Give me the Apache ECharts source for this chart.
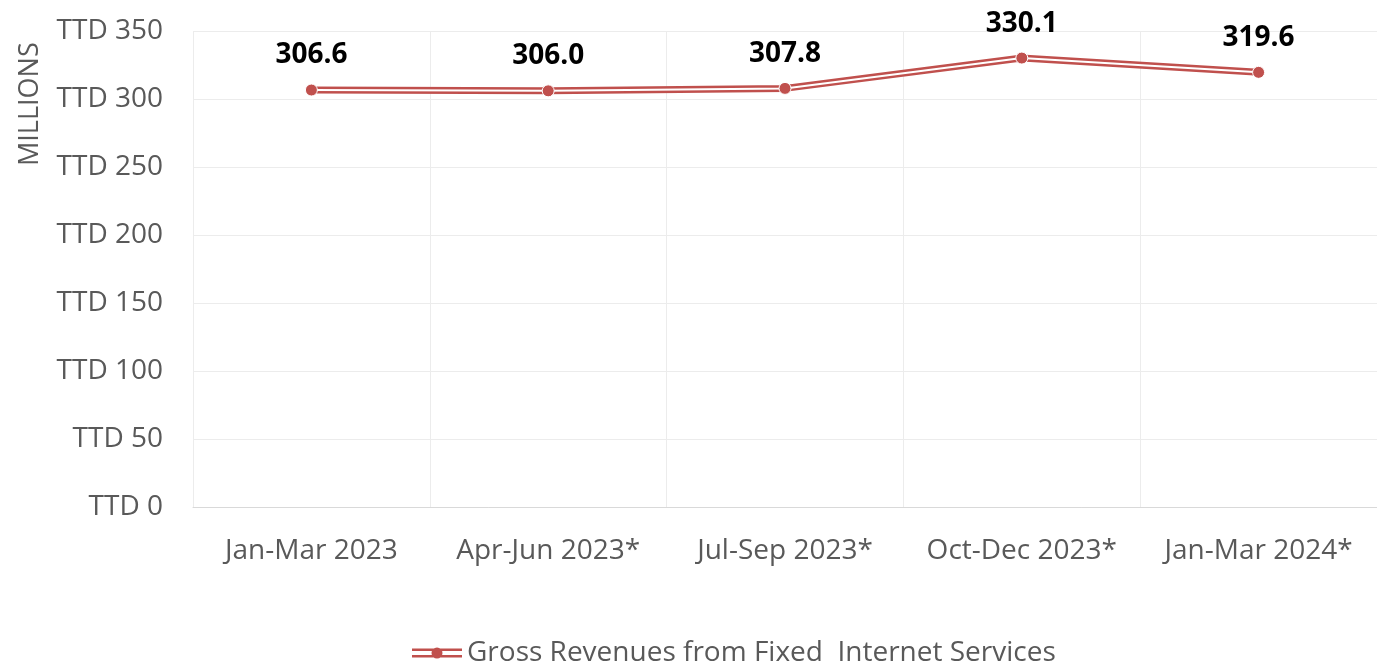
<!DOCTYPE html>
<html lang="en" style="height: 100%">
<head>
    <meta charset="utf-8">
</head>
<body style="height: 100%; margin: 0; background: #fff">
<div id="container" style="width: 1377px; height: 664px"></div>

<script type="text/javascript" src="https://fastly.jsdelivr.net/npm/echarts@6/dist/echarts.min.js"></script>
<script type="text/javascript">
    // data
    var quarters = ['Jan-Mar 2023', 'Apr-Jun 2023*', 'Jul-Sep 2023*', 'Oct-Dec 2023*', 'Jan-Mar 2024*'];
    var revenues = [306.6, 306.0, 307.8, 330.1, 319.6];
    var seriesName = 'Gross Revenues from Fixed  Internet Services';

    var red = '#c0504d';
    var grey = '#595959';
    var font = '"Open Sans", sans-serif';

    var dom = document.getElementById('container');
    var myChart = echarts.init(dom);

    // legend icon: double line with a dot in the middle
    var legendIcon = 'path://M0,2.5 H50 V5 H0 Z M0,9 H50 V11.5 H0 Z M25,1.5 A5.5,5.5 0 1 1 24.99,1.5 Z';

    var option = {
        animation: false,
        grid: { left: 193, right: 0, top: 31, bottom: 157 },
        graphic: [{
            type: 'text',
            x: 17,
            y: 166,
            rotation: Math.PI / 2,
            style: {
                text: 'MILLIONS',
                fill: grey,
                font: '27px ' + font
            }
        }],
        legend: {
            top: 634,
            left: 407,
            data: [{ name: seriesName, icon: legendIcon }],
            itemWidth: 50,
            itemHeight: 14,
            itemGap: 5,
            textStyle: { color: grey, fontSize: 28, fontFamily: font }
        },
        xAxis: {
            type: 'category',
            data: quarters,
            boundaryGap: true,
            axisLine: { lineStyle: { color: '#d9d9d9', width: 1 } },
            axisTick: { show: false },
            splitLine: { show: true, lineStyle: { color: '#ececec' } },
            axisLabel: { color: grey, fontSize: 28, fontFamily: font, margin: 30, interval: 0 }
        },
        yAxis: {
            type: 'value',
            min: 0,
            max: 350,
            interval: 50,
            axisLine: { show: false },
            axisTick: { show: false },
            splitLine: { lineStyle: { color: '#ececec' } },
            axisLabel: {
                color: grey, fontSize: 28, fontFamily: font, margin: 30,
                formatter: function (v) { return 'TTD ' + v; }
            }
        },
        series: [
            {
                // outer red stroke
                name: seriesName,
                type: 'line',
                data: revenues,
                symbol: 'none',
                lineStyle: { color: red, width: 7 },
                itemStyle: { color: red },
                z: 2
            },
            {
                // white core of the double line
                name: 'core',
                type: 'line',
                data: revenues,
                symbol: 'none',
                lineStyle: { color: '#fff', width: 2 },
                z: 3,
                silent: true
            },
            {
                // markers and value labels on top
                name: 'points',
                type: 'line',
                data: revenues,
                symbol: 'circle',
                symbolSize: 12,
                showAllSymbol: true,
                lineStyle: { opacity: 0 },
                itemStyle: { color: red, borderColor: '#fff', borderWidth: 1 },
                label: {
                    show: true,
                    position: 'top',
                    distance: 14,
                    color: '#000',
                    fontSize: 28,
                    fontWeight: 'bold',
                    fontFamily: font,
                    formatter: function (p) { return p.value.toFixed(1); }
                },
                z: 4
            }
        ]
    };

    myChart.setOption(option);
    window.addEventListener('resize', myChart.resize);
</script>
</body>
</html>
